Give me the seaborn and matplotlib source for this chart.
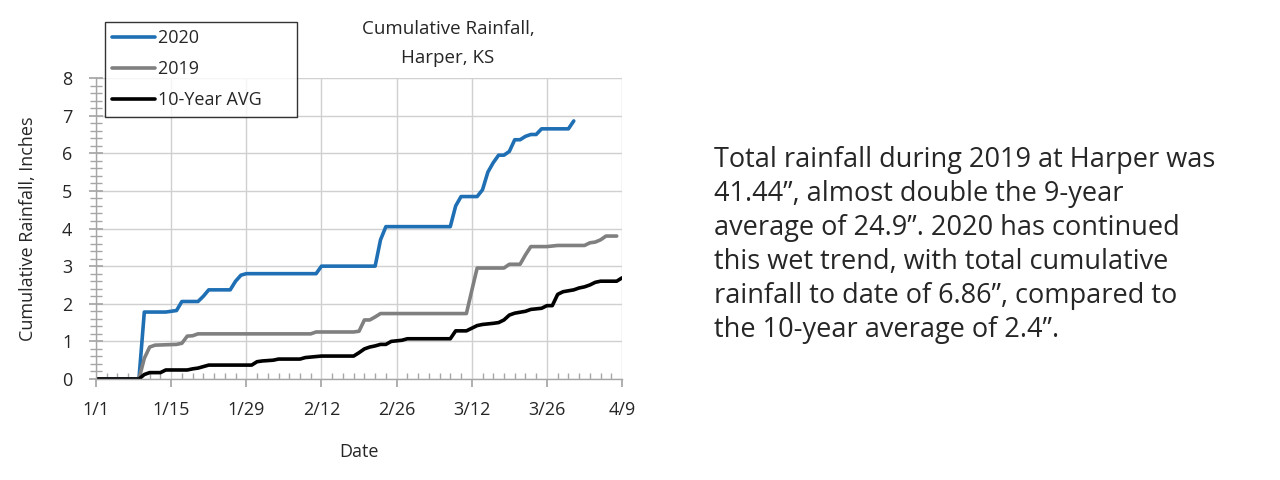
import numpy as np
import pandas as pd
import matplotlib
matplotlib.use("Agg")
import matplotlib.pyplot as plt
import seaborn as sns
from matplotlib.ticker import MultipleLocator

# ==========================================
# DATA (day of year offset from 1/1, cumulative inches)
# ==========================================
days_2020 = [0, 8, 9, 13, 14, 15, 16, 19, 20, 21, 25, 26, 27, 28, 41, 42, 52, 53, 54,
             66, 67, 68, 71, 72, 73, 74, 75, 76, 77, 78, 79, 80, 81, 82, 83, 88, 89]
rain_2020 = [0, 0, 1.78, 1.78, 1.80, 1.82, 2.06, 2.06, 2.2, 2.37, 2.37, 2.6, 2.76, 2.8, 2.8, 3.0, 3.0, 3.7, 4.05,
             4.05, 4.6, 4.85, 4.85, 5.03, 5.5, 5.75, 5.95, 5.95, 6.05, 6.36, 6.36, 6.45, 6.5, 6.5, 6.65, 6.65, 6.86]

days_2019 = [0, 8, 9, 10, 11, 15, 16, 17, 18, 19, 40, 41, 48, 49, 50, 51, 52, 53,
             69, 70, 71, 76, 77, 79, 80, 81, 84, 86, 91, 92, 93, 94, 95, 97]
rain_2019 = [0, 0, 0.55, 0.85, 0.9, 0.92, 0.95, 1.14, 1.15, 1.2, 1.2, 1.25, 1.25, 1.27, 1.57, 1.57, 1.65, 1.74,
             1.74, 2.35, 2.95, 2.95, 3.05, 3.05, 3.3, 3.52, 3.52, 3.55, 3.55, 3.62, 3.64, 3.7, 3.8, 3.8]

days_avg = [0, 8, 9, 10, 12, 13, 17, 18, 19, 20, 21, 29, 30, 31, 33, 34, 38, 39, 42, 48, 49, 50, 51, 52, 53,
            54, 55, 57, 58, 66, 67, 69, 70, 71, 72, 74, 75, 76, 77, 78, 80, 81, 83, 84, 85, 86, 87, 89,
            90, 91, 92, 93, 94, 97, 98]
rain_avg = [0, 0, 0.12, 0.17, 0.17, 0.24, 0.24, 0.27, 0.29, 0.33, 0.37, 0.37, 0.46, 0.48, 0.5, 0.53, 0.53, 0.57,
            0.61, 0.61, 0.7, 0.8, 0.85, 0.88, 0.92, 0.92, 1.0, 1.03, 1.07, 1.07, 1.28, 1.28, 1.35, 1.42, 1.45,
            1.48, 1.5, 1.57, 1.7, 1.75, 1.8, 1.85, 1.88, 1.95, 1.95, 2.25, 2.32, 2.37, 2.42, 2.45, 2.5, 2.57,
            2.6, 2.6, 2.69]

tick_days = [0, 14, 28, 42, 56, 70, 84, 98]
tick_labels = ["1/1", "1/15", "1/29", "2/12", "2/26", "3/12", "3/26", "4/9"]

series_names = ["2020", "2019", "10-Year AVG"]
series_colors = ["#1F6FB4", "#808080", "#000000"]

note = ("Total rainfall during 2019 at Harper was\n"
        "41.44\u201d, almost double the 9-year\n"
        "average of 24.9\u201d. 2020 has continued\n"
        "this wet trend, with total cumulative\n"
        "rainfall to date of 6.86\u201d, compared to\n"
        "the 10-year average of 2.4\u201d.")

# ==========================================
# BUILD LONG TABLE
# ==========================================
df = pd.concat([
    pd.DataFrame({"day": days_2020, "rain": rain_2020, "series": "2020"}),
    pd.DataFrame({"day": days_2019, "rain": rain_2019, "series": "2019"}),
    pd.DataFrame({"day": days_avg, "rain": rain_avg, "series": "10-Year AVG"}),
])

sns.set_theme(style="white")
plt.rcParams['font.family'] = ['Open Sans', 'DejaVu Sans']

fig = plt.figure(figsize=(12.8, 4.8), dpi=100)
ax = fig.add_axes([0.075, 0.2104, 0.411, 0.627])

sns.lineplot(data=df, x="day", y="rain", hue="series", hue_order=series_names,
             palette=series_colors, linewidth=2.6, ax=ax, estimator=None, sort=False)

ax.set_xlim(0, 98)
ax.set_ylim(0, 8)
ax.set_xticks(tick_days)
ax.set_xticklabels(tick_labels, fontsize=13)
ax.set_yticks(range(0, 9))
ax.tick_params(axis='y', labelsize=13)
ax.xaxis.set_minor_locator(MultipleLocator(2))
ax.yaxis.set_minor_locator(MultipleLocator(0.2))

ax.grid(True, which='major', color='#D0D0D0', linewidth=1)
for s in ["top", "right"]:
    ax.spines[s].set_visible(False)
for s in ["left", "bottom"]:
    ax.spines[s].set_color('#A6A6A6')
    ax.spines[s].set_linewidth(1)

ax.tick_params(axis='x', which='major', direction='out', length=6, color='#A6A6A6', pad=10, bottom=True)
ax.tick_params(axis='x', which='minor', direction='in', length=4, color='#A6A6A6', bottom=True)
ax.tick_params(axis='y', which='major', direction='inout', length=10, color='#A6A6A6', pad=12, left=True)
ax.tick_params(axis='y', which='minor', direction='inout', length=8, color='#A6A6A6', left=True)

ax.set_xlabel("Date", fontsize=13, labelpad=17)
ax.set_ylabel("Cumulative Rainfall, Inches", fontsize=13, labelpad=18)

leg = ax.legend(loc='upper left', bbox_to_anchor=(0.017, 1.186), fontsize=13, frameon=True,
                fancybox=False, edgecolor='black', handlelength=2.4, borderpad=0.4,
                labelspacing=0.72, handletextpad=0.15, borderaxespad=0)
leg.get_frame().set_linewidth(1)
for t in leg.get_texts():
    t.set_text(t.get_text() + "      ")

fig.text(0.35, 0.958, "Cumulative Rainfall,\nHarper, KS", ha='center', va='top',
         fontsize=13.5, linespacing=1.75)

fig.text(0.558, 0.695, note, ha='left', va='top', fontsize=19.5, linespacing=1.28)

plt.savefig('out.png', dpi=100)
